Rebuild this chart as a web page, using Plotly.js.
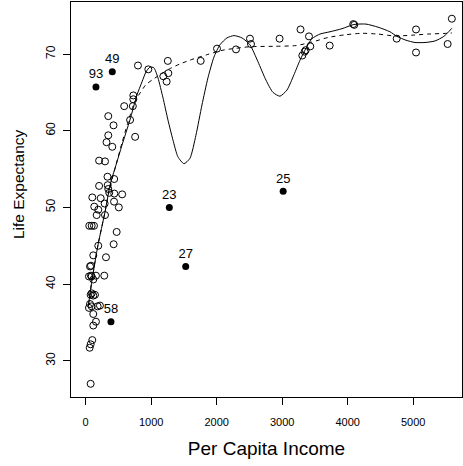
<!DOCTYPE html>
<html><head>
<script src="https://cdn.plot.ly/plotly-3.0.1.min.js"></script>
</head>
<body style="margin:0;background:#fff">
<div id="chart" style="width:463px;height:466px"></div>
<script>
const incomeOpen = [5590,5526,5043,5043,4748,4101,4085,3725,3429,3409,3280,3359,3343,3307,2960,2508,2524,2295,2005,1756,
  1254,1185,1262,1236,956,798,727,727,588,720,678,755,345,425,345,318,406,205,295,333,
  435,205,336,345,360,437,557,101,229,433,506,131,192,168,295,290,92,127,55,473,
  427,192,310,116,66,81,81,157,284,116,50,92,92,116,76,142,66,92,50,183,
  218,116,157,116,101,76,61,76];
const lifeOpen = [74.6,71.3,73.2,70.2,72.0,73.8,73.9,71.1,71.0,72.3,73.2,70.5,70.3,69.8,72.0,72.0,71.3,70.6,70.7,69.1,
  69.1,67.1,67.5,66.4,68.0,68.5,64.6,64.1,63.2,63.2,61.4,59.2,61.9,60.7,59.4,58.5,57.9,56.1,56.0,54.0,
  53.7,52.8,52.9,52.4,51.9,51.8,51.7,51.3,51.2,50.75,50.0,50.1,49.7,49.0,49.0,50.5,47.6,47.6,47.6,46.8,
  45.2,45.0,43.5,43.75,42.3,42.4,41.1,41.1,41.1,40.6,41.0,41.0,38.8,38.5,38.6,38.6,37.4,37.1,36.9,37.1,
  37.2,36.1,35.1,34.6,32.7,32.15,31.7,27.0];

const incomeLabeled = [157,406,1277,1527,3015,386];
const lifeLabeled = [65.7,67.7,50.0,42.3,52.1,35.1];
const labelText = ["93","49","23","27","25","58"];

const solidX = [43,96,188,295,371,462,554,676,783,859,920,981,1042,1103,1180,1256,1332,1408,1500,1592,
  1683,1775,1867,1958,2050,2157,2264,2386,2508,2630,2752,2859,2966,3073,3180,3272,3348,3455,3577,3730,
  3913,4096,4279,4462,4645,4752,4889,5027,5180,5333,5468,5590];
const solidY = [37.3,40.5,45.1,49.4,52.9,55.5,58.1,61.4,64.65,66.35,67.65,68.3,68.2,66.9,64.3,61.4,58.8,56.6,55.7,56.4,
  59.4,63.35,66.9,69.6,71.2,72.1,72.4,72.1,71.2,69.0,66.6,65.0,64.5,65.3,67.3,69.2,70.5,72.0,72.6,72.9,
  73.3,73.85,73.9,73.5,72.9,72.3,71.8,71.5,71.5,71.7,72.3,73.35];

const dashX = [43,96,188,295,371,462,554,646,737,829,920,1012,1134,1287,1439,1592,1847,2096,2508,2859,
  3210,3454,3698,3957,4216,4461,4721,4980,5224,5530,5591];
const dashY = [37.3,40.5,45.1,49.4,52.65,55.5,58.4,61.1,63.5,64.9,66.0,66.6,67.3,68.1,68.7,69.2,69.9,70.5,70.95,71.0,
  71.1,71.55,72.15,72.5,72.7,72.6,72.35,72.45,72.6,72.7,72.75];

const xTicks = [0,1000,2000,3000,4000,5000];
const yTicks = [30,40,50,60,70];

const font = "Liberation Sans, Arial, sans-serif";

const traces = [
  {x: solidX, y: solidY, mode: "lines", line: {color: "#000", width: 1, shape: "spline", smoothing: 0.6}, hoverinfo: "skip"},
  {x: dashX, y: dashY, mode: "lines", line: {color: "#000", width: 1, dash: "4px,4px", shape: "spline", smoothing: 0.6}, hoverinfo: "skip"},
  {x: incomeOpen, y: lifeOpen, mode: "markers",
   marker: {symbol: "circle-open", size: 7, color: "#000", line: {width: 1, color: "#000"}}},
  {x: incomeLabeled, y: lifeLabeled, mode: "markers+text", text: labelText, textposition: "top center",
   textfont: {family: font, size: 13, color: "#000"},
   marker: {symbol: "circle", size: 7, color: "#000"}}
];

const layout = {
  width: 463, height: 466,
  margin: {l: 71, r: 1, t: 2, b: 69},
  paper_bgcolor: "#fff", plot_bgcolor: "#fff",
  showlegend: false,
  font: {family: font, color: "#000", size: 12},
  xaxis: {
    range: [-224, 5745], tickvals: xTicks, ticktext: xTicks.map(String),
    showgrid: false, zeroline: false, showline: true, mirror: true, linecolor: "#000", linewidth: 1,
    ticks: "outside", ticklen: 7, tickcolor: "#000", tickwidth: 1, ticklabelstandoff: 8,
    tickfont: {family: font, size: 11},
    title: {text: "Per Capita Income", font: {family: font, size: 19}, standoff: 14}
  },
  yaxis: {
    range: [25.28, 76.78], tickvals: yTicks, ticktext: yTicks.map(String), tickangle: -90,
    showgrid: false, zeroline: false, showline: true, mirror: true, linecolor: "#000", linewidth: 1,
    ticks: "outside", ticklen: 7, tickcolor: "#000", tickwidth: 1, ticklabelstandoff: 3,
    tickfont: {family: font, size: 12}
  },
  annotations: [{
    text: "Life Expectancy", textangle: -90, showarrow: false,
    xref: "paper", yref: "paper", x: -0.1355, y: 0.539, xanchor: "center", yanchor: "middle",
    font: {family: font, size: 15.5, color: "#000"}
  }]
};

Plotly.newPlot("chart", traces, layout, {staticPlot: true, displayModeBar: false});
</script>
</body></html>
